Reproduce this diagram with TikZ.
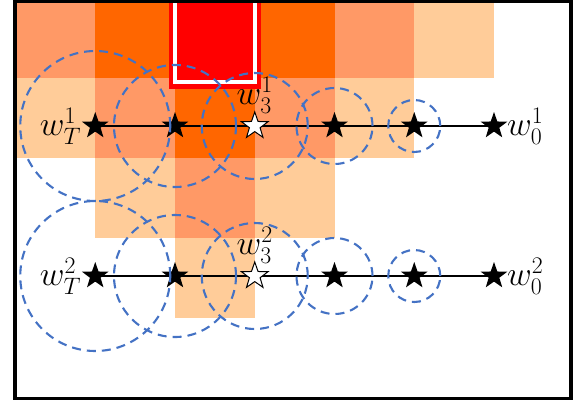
\RequirePackage{fix-cm}
\documentclass[tikz,border=0pt]{standalone}
\usetikzlibrary{shapes.geometric,positioning,backgrounds}

\definecolor{deep}{HTML}{FF6600}
\definecolor{mid}{HTML}{FF9966}
\definecolor{pale}{HTML}{FFCC99}
\definecolor{ringblue}{HTML}{4472C4}

\tikzset{
  fullstar/.style={star, star points=5, star point ratio=2.5, minimum size=28pt, inner sep=0pt, fill=black},
  openstar/.style={fullstar, fill=white, draw=black, line width=1pt},
  ring/.style={draw=ringblue, dash pattern=on 9pt off 6pt, line width=2.1pt},
  lab/.style={font=\fontsize{34}{40}\selectfont, inner sep=0pt}
}

\begin{document}
\begin{tikzpicture}[x=1pt, y=-1pt]
                \useasboundingbox (0,0) rectangle (578,400);

                \begin{scope}[on background layer]
                    % heat cells
                    \foreach \c/\r/\col in {0/0/mid, 1/0/deep, 3/0/deep, 4/0/mid, 5/0/pale,
                                            0/1/pale, 1/1/mid, 2/1/deep, 3/1/mid, 4/1/pale,
                                            1/2/pale, 2/2/mid, 3/2/pale,
                                            2/3/pale}
                        \fill[\col] (15.5+79.75*\c, -2+80*\r) rectangle ++(79.75, 80);

                    % marked cell
                    \fill[red] (169,-5) rectangle (261,89);
                    \draw[white, line width=4pt] (175,-5) rectangle (255,82);
                \end{scope}

                \begin{scope}[
                        every node/.style={fullstar}
                    ]

                    \node (t1) at (95.25,126) {};
                    \node (t2) at (175,126) {};
                    \node[openstar] (t3) at (254.75,126) {};
                    \node (t4) at (334.5,126) {};
                    \node (t5) at (414.25,126) {};
                    \node (t6) at (494,126) {};

                    \node (b1) at (95.25,276) {};
                    \node (b2) at (175,276) {};
                    \node[openstar] (b3) at (254.75,276) {};
                    \node (b4) at (334.5,276) {};
                    \node (b5) at (414.25,276) {};
                    \node (b6) at (494,276) {};
                \end{scope}

                \begin{scope}[on background layer]
                    \draw[line width=1.6pt] (t1.center) -- (t6.center);
                    \draw[line width=1.6pt] (b1.center) -- (b6.center);
                \end{scope}

                \draw[ring] (t1) circle (75pt);
                \draw[ring] (t2) circle (61pt);
                \draw[ring] (t3) circle (53pt);
                \draw[ring] (t4) circle (38pt);
                \draw[ring] (t5) circle (26pt);

                \draw[ring] (b1) circle (75pt);
                \draw[ring] (b2) circle (61pt);
                \draw[ring] (b3) circle (53pt);
                \draw[ring] (b4) circle (38pt);
                \draw[ring] (b5) circle (26pt);

                \node[lab, left=6pt of t1] (wT1) {$w_T^1$};
                \node[lab, above=-3pt of t3] (w31) {$w_3^1$};
                \node[lab, right=5pt of t6] (w01) {$w_0^1$};

                \node[lab, left=6pt of b1] (wT2) {$w_T^2$};
                \node[lab, above=-3pt of b3] (w32) {$w_3^2$};
                \node[lab, right=5pt of b6] (w02) {$w_0^2$};

                \draw[line width=3.5pt] (15,1.5) rectangle (571,398.5);
\end{tikzpicture}
\end{document}
